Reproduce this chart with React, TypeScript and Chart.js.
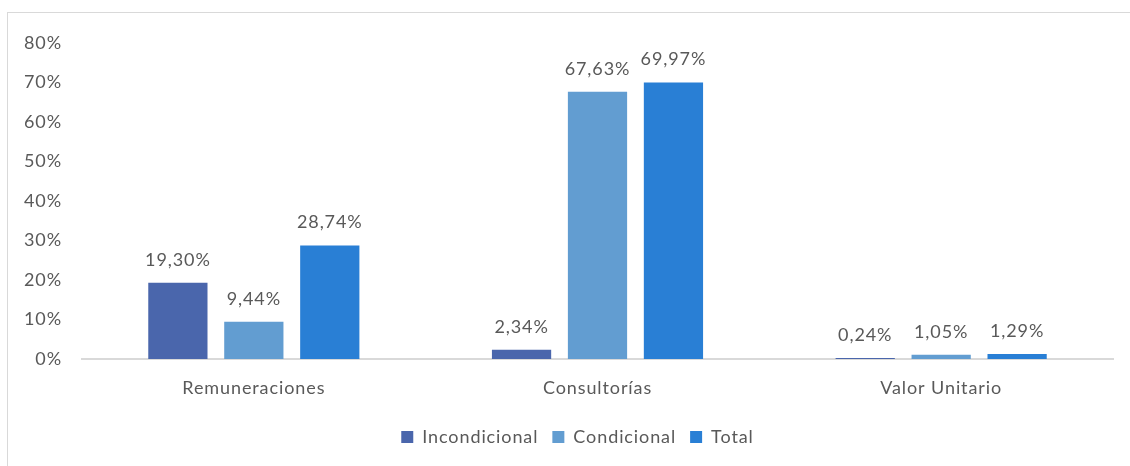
import React, { useEffect, useRef } from "react";
import { Chart, registerables } from "chart.js";

Chart.register(...registerables);

const categories = ["Remuneraciones", "Consultorías", "Valor Unitario"];
const seriesNames = ["Incondicional", "Condicional", "Total"];
const incondicional = [19.3, 2.34, 0.24];
const condicional = [9.44, 67.63, 1.05];
const total = [28.74, 69.97, 1.29];
const seriesColors = ["#4A66AC", "#629DD1", "#297FD5"];
const yTicks = [0, 10, 20, 30, 40, 50, 60, 70, 80];

const FONT = "Lato, 'Open Sans', sans-serif";
const TEXT = "#595959";

const fmt = (v: number) => v.toFixed(2).replace(".", ",") + "%";

const spacingPlugin = {
  id: "spacing",
  beforeInit(chart: any) {
    chart.ctx.letterSpacing = "0.9px";
  },
  beforeUpdate(chart: any) {
    chart.ctx.letterSpacing = "0.9px";
  },
  afterLayout(chart: any) {
    // center the legend on the original chart frame rather than the canvas
    const lg = chart.legend;
    if (lg) {
      lg.left += 21;
      lg.right += 21;
    }
  },
  beforeDraw(chart: any) {
    chart.ctx.letterSpacing = "0.9px";
  },
};

const labelPlugin = {
  id: "barLabels",
  afterDatasetsDraw(chart: any) {
    const ctx = chart.ctx;
    ctx.save();
    ctx.letterSpacing = "0.9px";
    ctx.font = `18px ${FONT}`;
    ctx.fillStyle = TEXT;
    ctx.textAlign = "center";
    ctx.textBaseline = "middle";
    chart.data.datasets.forEach((ds: any, i: number) => {
      const meta = chart.getDatasetMeta(i);
      meta.data.forEach((bar: any, j: number) => {
        ctx.fillText(fmt(ds.data[j]), bar.x, bar.y - 23);
      });
    });
    ctx.restore();
  },
};

export default function App() {
  const ref = useRef<HTMLCanvasElement>(null);
  useEffect(() => {
    const series = [incondicional, condicional, total];
    const chart = new Chart(ref.current!, {
      type: "bar",
      data: {
        labels: categories,
        datasets: series.map((d, i) => ({
          label: seriesNames[i],
          data: d,
          backgroundColor: seriesColors[i],
          borderWidth: 0,
          categoryPercentage: 0.663,
          barPercentage: 0.78,
        })),
      },
      options: {
        responsive: false,
        animation: false,
        layout: { padding: { top: 43, right: 17, bottom: 10, left: 0 } },
        plugins: {
          tooltip: { enabled: false },
          legend: {
            position: "bottom",
            labels: {
              color: TEXT,
              font: { family: FONT, size: 18 },
              boxWidth: 12,
              boxHeight: 12,
              padding: 14,
            },
          },
        },
        scales: {
          x: {
            grid: { display: false, drawTicks: false },
            border: { color: "#D9D9D9", width: 2 },
            ticks: {
              color: TEXT,
              font: { family: FONT, size: 18 },
              padding: 18,
            },
            afterFit: (s: any) => {
              s.height = 55;
            },
          },
          y: {
            min: 0,
            max: 80,
            grid: { display: false, drawTicks: false },
            border: { display: false },
            afterBuildTicks: (s: any) => {
              s.ticks = yTicks.map((v) => ({ value: v }));
            },
            ticks: {
              color: TEXT,
              font: { family: FONT, size: 18 },
              padding: 20,
              callback: (v: any) => v + "%",
            },
            afterFit: (s: any) => {
              s.width = 82;
            },
          },
        },
      },
      plugins: [spacingPlugin, labelPlugin],
    });
    return () => chart.destroy();
  }, []);

  return (
    <div
      style={{
        position: "fixed",
        left: 0,
        top: 0,
        width: 1130,
        height: 466,
        overflow: "hidden",
        background: "#fff",
      }}
    >
      <div
        style={{
          position: "absolute",
          left: 7,
          top: 12,
          width: 1200,
          height: 500,
          border: "1px solid #D9D9D9",
        }}
      />
      <canvas
        ref={ref}
        width={1130}
        height={466}
        style={{ position: "absolute", left: 0, top: 0 }}
      />
    </div>
  );
}
